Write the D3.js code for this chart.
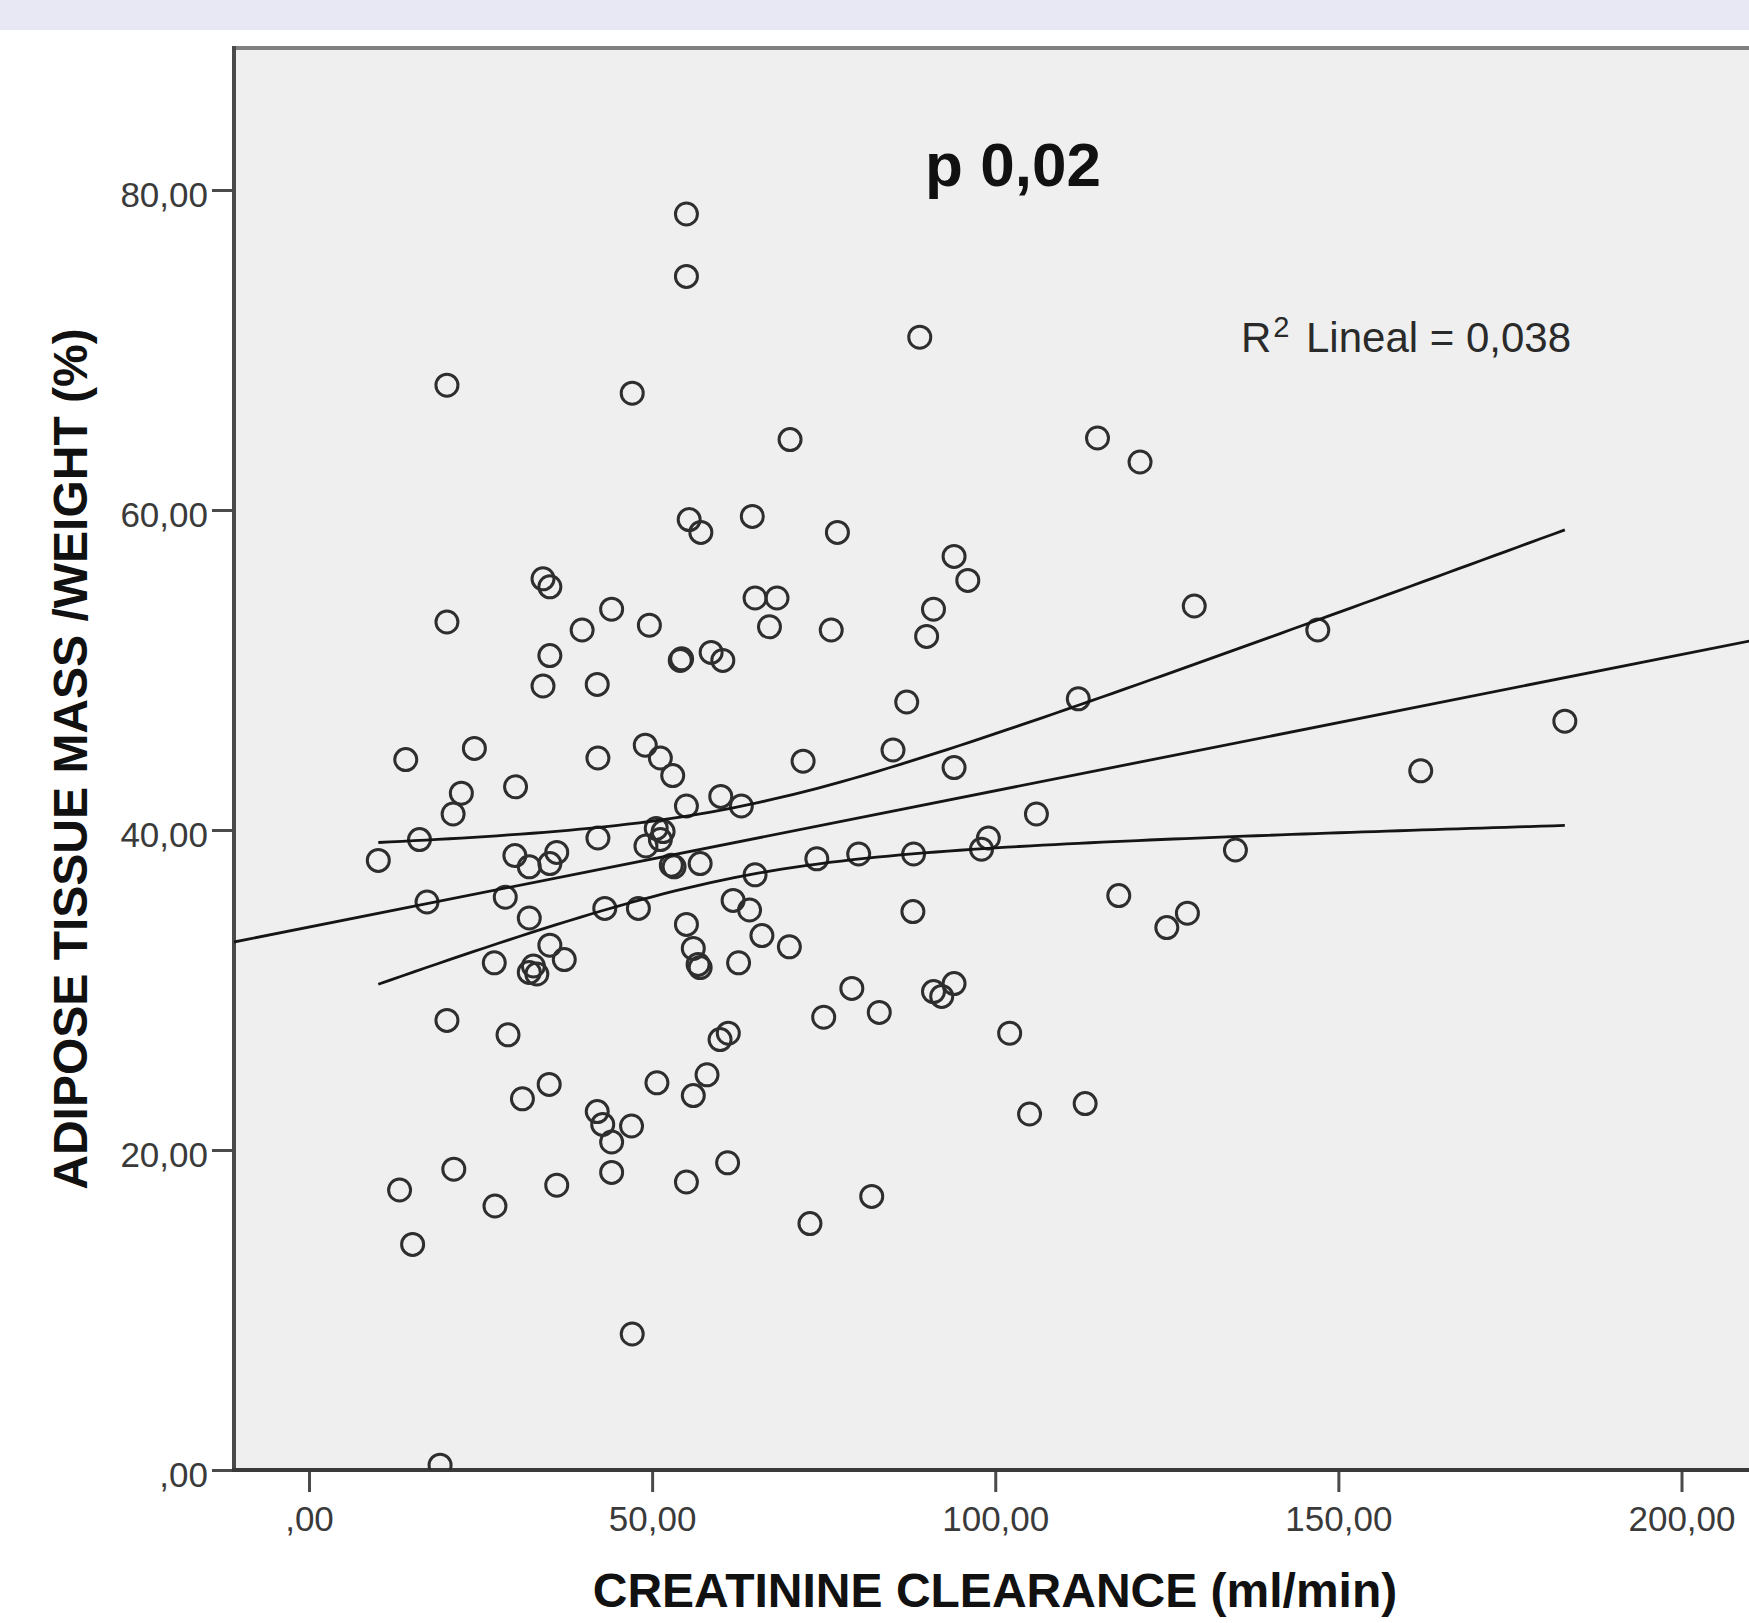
<!DOCTYPE html>
<html><head><meta charset="utf-8">
<script src="https://cdn.jsdelivr.net/npm/d3@7"></script>
<style>body{margin:0;background:#fff;} svg{display:block;}</style>
</head><body>
<svg id="chart" width="1749" height="1623"></svg>
<script>
// ---- data ----
const clearance = [55.0,55.0,20.1,47.1,55.4,57.1,34.1,35.1,44.1,20.1,49.6,39.8,35.1,54.1,54.3,58.6,60.3,34.1,42.0,
  89.0,70.1,114.9,64.6,77.0,94.0,96.0,65.0,68.2,91.0,67.1,76.1,90.0,87.1,112.1,
  14.1,24.1,42.1,49.0,51.2,53.0,22.2,21.0,30.1,55.0,60.0,63.0,16.1,10.1,30.0,32.1,36.1,35.1,42.1,
  50.6,51.2,49.1,51.6,52.8,53.2,57.0,17.2,28.6,32.1,43.1,48.0,61.8,55.0,56.0,56.7,57.0,35.1,37.2,
  27.0,32.7,32.1,33.2,62.6,20.1,29.0,59.9,61.1,35.0,31.1,50.7,58.0,56.0,42.0,42.8,44.1,47.0,21.1,
  13.2,36.1,44.1,55.0,61.0,27.1,72.0,85.1,94.0,106.0,99.0,98.0,74.0,80.1,88.1,65.0,64.2,66.0,70.0,
  88.0,79.1,75.0,83.1,91.0,92.2,94.0,102.1,105.0,113.1,82.0,15.1,73.0,47.1,19.1,121.1,129.0,147.0,
  183.0,162.0,135.0,118.0,128.0,125.0];
const adiposeWeight = [78.5,74.6,67.8,67.3,59.4,58.6,55.7,55.2,53.8,53.0,52.8,52.5,50.9,50.6,50.7,51.1,50.6,49.0,49.1,
  70.8,64.4,64.5,59.6,58.6,57.1,55.6,54.5,54.5,53.8,52.7,52.5,52.1,48.0,48.2,
  44.4,45.1,44.5,45.3,44.5,43.4,42.3,41.0,42.7,41.5,42.1,41.5,39.4,38.1,38.4,37.7,38.6,37.9,39.5,
  40.1,39.4,39.0,39.9,37.8,37.7,37.9,35.5,35.8,34.5,35.1,35.1,35.6,34.1,32.6,31.6,31.4,32.8,31.9,
  31.7,31.5,31.1,31.0,31.7,28.1,27.2,26.9,27.3,24.1,23.2,24.2,24.7,23.4,22.4,21.6,20.5,21.5,18.8,
  17.5,17.8,18.6,18.0,19.2,16.5,44.3,45.0,43.9,41.0,39.5,38.8,38.2,38.5,38.5,37.2,35.0,33.4,32.7,
  34.9,30.1,28.3,28.6,29.9,29.6,30.4,27.3,22.25,22.9,17.1,14.1,15.4,8.5,0.3,63.0,54.0,52.5,
  46.8,43.7,38.75,35.9,34.8,33.9];
const xTickValues = [0, 50, 100, 150, 200];
const yTickValues = [0, 20, 40, 60, 80];
const fitLine = [33.93, 0.0852];          // intercept, slope
const ciBand = [62, 4.8, 0.0055];         // centre x, a, b  (half-width^2 = a + b (x - c)^2)
const fitRange = [10.1, 183.0];           // min / max clearance
const xTitle = "CREATININE CLEARANCE (ml/min)";
const yTitle = "ADIPOSE TISSUE MASS /WEIGHT (%)";
const pText = "p 0,02";
const r2Parts = ["R", "2", "Lineal = 0,038"];

// ---- drawing ----
const W = 1749, H = 1623;
const plotLeft = 234, plotTop = 48, plotBottom = 1470, plotRight = 1760;
const svg = d3.select("#chart");
const FONT = "'Liberation Sans', Arial, Helvetica, sans-serif";

svg.append("rect").attr("width", W).attr("height", H).attr("fill", "#fff");
svg.append("rect").attr("width", W).attr("height", 30).attr("fill", "#e8e8f5");

const x = d3.scaleLinear().domain([0, 200]).range([309, 1681.5]);
const y = d3.scaleLinear().domain([0, 80]).range([1470, 190]);

svg.append("rect").attr("x", plotLeft).attr("y", plotTop)
  .attr("width", plotRight - plotLeft).attr("height", plotBottom - plotTop)
  .attr("fill", "#efefef");

svg.append("clipPath").attr("id", "clip").append("rect")
  .attr("x", plotLeft).attr("y", plotTop)
  .attr("width", plotRight - plotLeft).attr("height", plotBottom - plotTop);

const fmt = v => v === 0 ? ",00" : v.toFixed(2).replace(".", ",");

// y axis
const gy = svg.append("g").attr("transform", `translate(${plotLeft - 2},0)`)
  .call(d3.axisLeft(y).tickValues(yTickValues).tickSize(20).tickPadding(4).tickFormat(fmt));
gy.select(".domain").remove();
gy.selectAll(".tick line").attr("stroke", "#4a4a4a").attr("stroke-width", 3);
gy.selectAll(".tick text").attr("font-family", FONT).attr("font-size", 35)
  .attr("fill", "#3a3a3a").attr("dy", "0.47em");

// x axis
const gx = svg.append("g").attr("transform", `translate(0,${plotBottom + 2})`)
  .call(d3.axisBottom(x).tickValues(xTickValues).tickSize(20).tickPadding(14).tickFormat(fmt));
gx.select(".domain").remove();
gx.selectAll(".tick line").attr("stroke", "#4a4a4a").attr("stroke-width", 3);
gx.selectAll(".tick text").attr("font-family", FONT).attr("font-size", 35).attr("fill", "#3a3a3a");

// frame
svg.append("line").attr("x1", plotLeft - 2).attr("x2", W).attr("y1", plotTop).attr("y2", plotTop)
  .attr("stroke", "#808080").attr("stroke-width", 4);
svg.append("line").attr("x1", plotLeft).attr("x2", plotLeft).attr("y1", plotTop - 2).attr("y2", plotBottom + 2)
  .attr("stroke", "#4a4a4a").attr("stroke-width", 4);
svg.append("line").attr("x1", plotLeft - 2).attr("x2", W).attr("y1", plotBottom).attr("y2", plotBottom)
  .attr("stroke", "#3a3a3a").attr("stroke-width", 4);

const plot = svg.append("g").attr("clip-path", "url(#clip)");

// points
const pts = clearance.map((c, i) => [c, adiposeWeight[i]]);
plot.selectAll("circle.pt").data(pts).join("circle").attr("class", "pt")
  .attr("cx", d => x(d[0])).attr("cy", d => y(d[1])).attr("r", 11)
  .attr("fill", "none").attr("stroke", "#2e2e2e").attr("stroke-width", 3);

// regression line
const fit = v => fitLine[0] + fitLine[1] * v;
const lineGen = d3.line().x(d => x(d[0])).y(d => y(d[1]));
plot.append("path").datum([[-12, fit(-12)], [220, fit(220)]])
  .attr("d", lineGen).attr("fill", "none").attr("stroke", "#151515").attr("stroke-width", 2.8);

// confidence band for the mean
const half = v => Math.sqrt(ciBand[1] + ciBand[2] * (v - ciBand[0]) ** 2);
const xs = d3.range(0, 101).map(i => fitRange[0] + (fitRange[1] - fitRange[0]) * i / 100);
[1, -1].forEach(sign => {
  plot.append("path").datum(xs.map(v => [v, fit(v) + sign * half(v)]))
    .attr("d", lineGen).attr("fill", "none").attr("stroke", "#151515").attr("stroke-width", 2.8);
});

// annotations
svg.append("text").attr("x", 1013).attr("y", 186).attr("text-anchor", "middle")
  .attr("font-family", FONT).attr("font-weight", "bold").attr("font-size", 62).attr("fill", "#111")
  .text(pText);

const r2 = svg.append("text").attr("x", 1241).attr("y", 352)
  .attr("font-family", FONT).attr("font-size", 42).attr("fill", "#2a2a2a");
r2.append("tspan").text(r2Parts[0]);
r2.append("tspan").attr("font-size", 29).attr("dy", -15).attr("dx", 2).text(r2Parts[1]);
r2.append("tspan").attr("x", 1306).attr("dy", 15).text(r2Parts[2]);

// axis titles
svg.append("text").attr("x", 995).attr("y", 1607).attr("text-anchor", "middle")
  .attr("font-family", FONT).attr("font-weight", "bold").attr("font-size", 48).attr("fill", "#111")
  .text(xTitle);
svg.append("text").attr("transform", "translate(87,759) rotate(-90)").attr("text-anchor", "middle")
  .attr("font-family", FONT).attr("font-weight", "bold").attr("font-size", 48).attr("fill", "#111")
  .text(yTitle);
</script>
</body></html>
